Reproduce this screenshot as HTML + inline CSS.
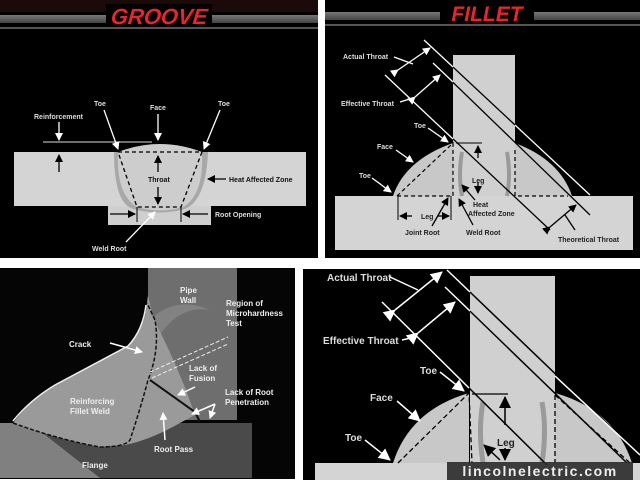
<!DOCTYPE html>
<html><head><meta charset="utf-8"><style>
body{margin:0;background:#fff;width:640px;height:480px;overflow:hidden}
svg{display:block}
text{font-family:"Liberation Sans",Arial,sans-serif;font-weight:bold}
</style></head><body>
<svg width="640" height="480" viewBox="0 0 640 480" xmlns="http://www.w3.org/2000/svg">
<defs>
<marker id="aw" markerWidth="8" markerHeight="8" refX="7" refY="4" orient="auto" markerUnits="userSpaceOnUse"><path d="M0,0 L8,4 L0,8 z" fill="#fff"/></marker>
<marker id="ab" markerWidth="8" markerHeight="8" refX="7" refY="4" orient="auto" markerUnits="userSpaceOnUse"><path d="M0,0 L8,4 L0,8 z" fill="#000"/></marker>
<marker id="aw2" markerWidth="12" markerHeight="12" refX="11" refY="6" orient="auto" markerUnits="userSpaceOnUse"><path d="M0,0 L12,6 L0,12 z" fill="#fff"/></marker>
<marker id="ab2" markerWidth="12" markerHeight="12" refX="11" refY="6" orient="auto" markerUnits="userSpaceOnUse"><path d="M0,0 L12,6 L0,12 z" fill="#000"/></marker>
<linearGradient id="stripe" x1="0" y1="0" x2="0" y2="1"><stop offset="0" stop-color="#777"/><stop offset="1" stop-color="#444"/></linearGradient>
<radialGradient id="glow" cx="0.5" cy="0.5" r="0.5"><stop offset="0.6" stop-color="#8a8a8a"/><stop offset="1" stop-color="#6e6e6e"/></radialGradient>
</defs>

<!-- TOP LEFT: GROOVE -->
<rect x="0" y="0" width="318" height="258" fill="#000"/>
<rect x="0" y="0" width="318" height="12" fill="#1a0a0a"/>
<rect x="0" y="15" width="318" height="8" fill="url(#stripe)"/>
<rect x="0" y="27" width="318" height="2" fill="#555"/>
<rect x="106" y="4" width="106" height="22" fill="#000"/>
<text x="159" y="24" text-anchor="middle" font-size="22" font-style="italic" fill="#e8242c" transform="skewX(-6) translate(2,0)">GROOVE</text>
<rect x="14" y="152" width="292" height="54" fill="#d4d4d4"/>
<rect x="108" y="206" width="103" height="19" fill="#cfcfcf"/>
<path d="M114,152 Q114,203 133,209 Q160,216 185,209 Q206,200 208,152 Z" fill="#a8a8a8"/>
<path d="M118,152 Q160,136 202,152 Q204,195 183,207 Q160,214 137,207 Q116,195 118,152 Z" fill="#cdcdcd"/>
<path d="M118,152 L202,152 L181,207 L137,207 Z" fill="none" stroke="#000" stroke-width="1.3" stroke-dasharray="4,3"/>
<line x1="43" y1="142" x2="152" y2="142" stroke="#ddd" stroke-width="1"/>
<line x1="59" y1="122" x2="59" y2="140" stroke="#fff" stroke-width="1.3" marker-end="url(#aw)"/>
<line x1="59" y1="172" x2="59" y2="155" stroke="#000" stroke-width="1.3" marker-end="url(#ab)"/>
<line x1="104" y1="110" x2="118" y2="149" stroke="#fff" stroke-width="1.3" marker-end="url(#aw)"/>
<line x1="158" y1="114" x2="158" y2="140" stroke="#fff" stroke-width="1.3" marker-end="url(#aw)"/>
<line x1="220" y1="110" x2="204" y2="149" stroke="#fff" stroke-width="1.3" marker-end="url(#aw)"/>
<line x1="158" y1="172" x2="158" y2="156" stroke="#000" stroke-width="1.3" marker-end="url(#ab)"/>
<line x1="158" y1="187" x2="158" y2="204" stroke="#000" stroke-width="1.3" marker-end="url(#ab)"/>
<line x1="226" y1="179" x2="208" y2="179" stroke="#000" stroke-width="1.3" marker-end="url(#ab)"/>
<line x1="137" y1="207" x2="137" y2="222" stroke="#000" stroke-width="1"/>
<line x1="181" y1="207" x2="181" y2="222" stroke="#000" stroke-width="1"/>
<line x1="110" y1="214" x2="135" y2="214" stroke="#000" stroke-width="1.3" marker-end="url(#ab)"/>
<line x1="208" y1="214" x2="183" y2="214" stroke="#000" stroke-width="1.3" marker-end="url(#ab)"/>
<line x1="126" y1="242" x2="155" y2="212" stroke="#fff" stroke-width="1.3" marker-end="url(#aw)"/>
<g font-size="7" fill="#ddd">
<text x="94" y="106">Toe</text><text x="150" y="110">Face</text><text x="218" y="106">Toe</text>
<text x="34" y="119">Reinforcement</text><text x="148" y="182" fill="#111">Throat</text>
<text x="229" y="182" fill="#111">Heat Affected Zone</text><text x="215" y="217">Root Opening</text>
<text x="92" y="251">Weld Root</text></g>

<!-- TOP RIGHT: FILLET -->
<rect x="325" y="0" width="315" height="258" fill="#000"/>
<rect x="325" y="12" width="315" height="8" fill="url(#stripe)"/>
<rect x="325" y="24" width="315" height="2" fill="#555"/>
<rect x="440" y="2" width="94" height="22" fill="#000"/>
<text x="487" y="21" text-anchor="middle" font-size="21" font-style="italic" fill="#e8242c">FILLET</text>
<rect x="335" y="196" width="298" height="54" fill="#d4d4d4"/>
<rect x="453" y="55" width="62" height="141" fill="#d0d0d0"/>
<path d="M393,196 Q405,160 453,143 L453,196 Z" fill="#c8c8c8"/>
<path d="M515,143 Q560,160 572,196 L515,196 Z" fill="#c8c8c8"/>
<path d="M462,152 Q458,175 462,196 M507,152 Q511,175 507,196" stroke="#9a9a9a" stroke-width="4" fill="none"/>
<path d="M397,196 L453,143 L453,196 Z M515,150 L515,196 L568,196" fill="none" stroke="#000" stroke-width="1.2" stroke-dasharray="4,3"/>
<line x1="385" y1="75" x2="550" y2="230" stroke="#000" stroke-width="1.3"/>
<line x1="385" y1="75" x2="453" y2="139" stroke="#fff" stroke-width="1.3"/>
<line x1="433" y1="63" x2="590" y2="215" stroke="#000" stroke-width="1.3"/>
<line x1="433" y1="63" x2="453" y2="82" stroke="#fff" stroke-width="1.3"/>
<line x1="424" y1="40" x2="590" y2="195" stroke="#000" stroke-width="1.3"/>
<line x1="424" y1="40" x2="453" y2="67" stroke="#fff" stroke-width="1.3"/>
<line x1="515" y1="125" x2="590" y2="195" stroke="#fff" stroke-width="1.3"/>
<line x1="398" y1="70" x2="430" y2="48" stroke="#fff" stroke-width="1.3" marker-start="url(#aw)" marker-end="url(#aw)"/>
<line x1="415" y1="97" x2="440" y2="75" stroke="#fff" stroke-width="1.3" marker-start="url(#aw)" marker-end="url(#aw)"/>
<line x1="550" y1="227" x2="576" y2="205" stroke="#000" stroke-width="1.3" marker-start="url(#ab)" marker-end="url(#ab)"/>
<line x1="456" y1="143" x2="482" y2="143" stroke="#000" stroke-width="1"/>
<line x1="478" y1="158" x2="478" y2="146" stroke="#000" stroke-width="1.3" marker-end="url(#ab)"/>
<line x1="478" y1="182" x2="478" y2="193" stroke="#000" stroke-width="1.3" marker-end="url(#ab)"/>
<line x1="398" y1="196" x2="398" y2="220" stroke="#000" stroke-width="1"/>
<line x1="451" y1="196" x2="451" y2="220" stroke="#000" stroke-width="1"/>
<line x1="412" y1="216" x2="400" y2="216" stroke="#000" stroke-width="1.3" marker-end="url(#ab)"/>
<line x1="438" y1="216" x2="449" y2="216" stroke="#000" stroke-width="1.3" marker-end="url(#ab)"/>
<g stroke="#fff" stroke-width="1.3">
<line x1="394" y1="57" x2="413" y2="64"/><line x1="400" y1="102" x2="413" y2="98"/>
<line x1="428" y1="128" x2="448" y2="142" marker-end="url(#aw)"/>
<line x1="396" y1="150" x2="413" y2="162" marker-end="url(#aw)"/>
<line x1="372" y1="178" x2="391" y2="192" marker-end="url(#aw)"/></g>
<g stroke="#000" stroke-width="1.3">
<line x1="432" y1="226" x2="448" y2="198" marker-end="url(#ab)"/>
<line x1="473" y1="225" x2="459" y2="199" marker-end="url(#ab)"/>
<line x1="475" y1="200" x2="462" y2="185" marker-end="url(#ab)"/>
<line x1="575" y1="230" x2="565" y2="215"/></g>
<g font-size="7" fill="#ddd">
<text x="343" y="59">Actual Throat</text><text x="341" y="106">Effective Throat</text>
<text x="414" y="128">Toe</text><text x="377" y="149">Face</text><text x="359" y="178">Toe</text></g>
<g font-size="7" fill="#222">
<text x="472" y="183">Leg</text><text x="421" y="219">Leg</text><text x="473" y="207">Heat</text>
<text x="468" y="216">Affected Zone</text><text x="405" y="235">Joint Root</text><text x="466" y="235">Weld Root</text>
<text x="558" y="242">Theoretical Throat</text></g>

<!-- BOTTOM LEFT: photo -->
<rect x="0" y="268" width="295" height="211" fill="#050505"/>
<rect x="148" y="268" width="89" height="152" fill="#6e6e6e"/>
<path d="M150,320 Q175,295 210,310 Q180,305 160,335 Z" fill="#8a8a8a" opacity="0.7"/>
<rect x="0" y="423" width="252" height="55" fill="#4a4a4a"/>
<path d="M0,423 L30,423 L100,478 L0,478 Z" fill="#808080"/>
<path d="M13,423 Q30,400 55,385 L128,346 Q143,330 146,310 L148,295 L153,318 Q170,350 186,390 L195,415 L180,423 Q150,440 125,445 L100,447 Q60,440 13,423 Z" fill="#9a9a9a"/>
<path d="M13,423 Q60,440 100,447 Q125,447 130,440 Q140,410 148,380 Q160,350 155,320 L147,303" fill="none" stroke="#111" stroke-width="1.5" stroke-dasharray="4,2"/>
<path d="M13,421 Q30,400 55,385 L128,346 Q143,330 146,305" fill="none" stroke="#eee" stroke-width="1.5"/>
<path d="M150,380 L195,412 L200,422" fill="none" stroke="#111" stroke-width="2"/>
<g stroke="#eee" stroke-width="1" stroke-dasharray="4,2" fill="none">
<line x1="150" y1="372" x2="228" y2="337"/><line x1="152" y1="378" x2="228" y2="344"/></g>
<g stroke="#fff" stroke-width="1.5">
<line x1="110" y1="343" x2="142" y2="352" marker-end="url(#aw)"/>
<line x1="195" y1="387" x2="178" y2="395" marker-end="url(#aw)"/>
<line x1="215" y1="404" x2="192" y2="414" marker-end="url(#aw)"/>
<line x1="215" y1="404" x2="210" y2="418" marker-end="url(#aw)"/>
<line x1="165" y1="440" x2="163" y2="413" marker-end="url(#aw)"/></g>
<g font-family="Liberation Serif" font-size="8" fill="#eee">
<text x="180" y="293">Pipe</text><text x="180" y="303">Wall</text>
<text x="226" y="306">Region of</text><text x="226" y="316">Microhardness</text><text x="226" y="326">Test</text>
<text x="69" y="347">Crack</text><text x="189" y="371">Lack of</text><text x="189" y="381">Fusion</text>
<text x="225" y="395">Lack of Root</text><text x="225" y="405">Penetration</text>
<text x="70" y="404">Reinforcing</text><text x="70" y="414">Fillet Weld</text>
<text x="154" y="452">Root Pass</text><text x="82" y="468">Flange</text></g>

<!-- BOTTOM RIGHT -->
<rect x="303" y="269" width="337" height="211" fill="#000"/>
<rect x="470" y="276" width="85" height="204" fill="#d0d0d0"/>
<rect x="315" y="463" width="325" height="17" fill="#d4d4d4"/>
<path d="M393,463 Q410,410 469,393 L469,463 Z" fill="#c8c8c8"/>
<path d="M555,393 Q615,410 632,463 L555,463 Z" fill="#c8c8c8"/>
<path d="M483,402 Q478,430 483,463 M542,402 Q547,430 542,463" stroke="#9a9a9a" stroke-width="5" fill="none"/>
<path d="M398,463 L469,393 L472,463 M555,395 L555,463 M555,395 L630,463" fill="none" stroke="#000" stroke-width="1.3" stroke-dasharray="5,3"/>
<line x1="382" y1="302" x2="547" y2="465" stroke="#000" stroke-width="1.5"/>
<line x1="382" y1="302" x2="469" y2="388" stroke="#fff" stroke-width="1.5"/>
<line x1="445" y1="287" x2="627" y2="463" stroke="#000" stroke-width="1.5"/>
<line x1="445" y1="287" x2="470" y2="311" stroke="#fff" stroke-width="1.5"/>
<line x1="447" y1="270" x2="640" y2="455" stroke="#000" stroke-width="1.5"/>
<line x1="447" y1="270" x2="470" y2="292" stroke="#fff" stroke-width="1.5"/>
<line x1="555" y1="376" x2="640" y2="455" stroke="#fff" stroke-width="1.5"/>
<line x1="395" y1="310" x2="442" y2="272" stroke="#fff" stroke-width="1.5" marker-start="url(#aw2)" marker-end="url(#aw2)"/>
<line x1="418" y1="333" x2="455" y2="302" stroke="#fff" stroke-width="1.5" marker-start="url(#aw2)" marker-end="url(#aw2)"/>
<line x1="472" y1="394" x2="508" y2="394" stroke="#000" stroke-width="1.2"/>
<line x1="505" y1="425" x2="505" y2="397" stroke="#000" stroke-width="1.5" marker-end="url(#ab2)"/>
<line x1="505" y1="448" x2="505" y2="460" stroke="#000" stroke-width="1.5" marker-end="url(#ab2)"/>
<line x1="500" y1="460" x2="484" y2="445" stroke="#000" stroke-width="1.5" marker-end="url(#ab2)"/>
<g stroke="#fff" stroke-width="1.5">
<line x1="390" y1="277" x2="418" y2="290"/><line x1="402" y1="340" x2="415" y2="337"/>
<line x1="440" y1="372" x2="464" y2="391" marker-end="url(#aw2)"/>
<line x1="397" y1="401" x2="420" y2="421" marker-end="url(#aw2)"/>
<line x1="365" y1="440" x2="390" y2="460" marker-end="url(#aw2)"/></g>
<g font-size="10" fill="#ddd">
<text x="327" y="281">Actual Throat</text><text x="323" y="344">Effective Throat</text>
<text x="420" y="374">Toe</text><text x="370" y="401">Face</text><text x="345" y="441">Toe</text></g>
<text x="497" y="446" font-size="10" fill="#222">Leg</text>
<rect x="447" y="462" width="186" height="18" fill="#2a2a2a" opacity="0.9"/>
<text x="540" y="476" text-anchor="middle" font-family="Liberation Mono" font-size="14" fill="#eee" letter-spacing="1.5">lincolnelectric.com</text>
</svg>
</body></html>
